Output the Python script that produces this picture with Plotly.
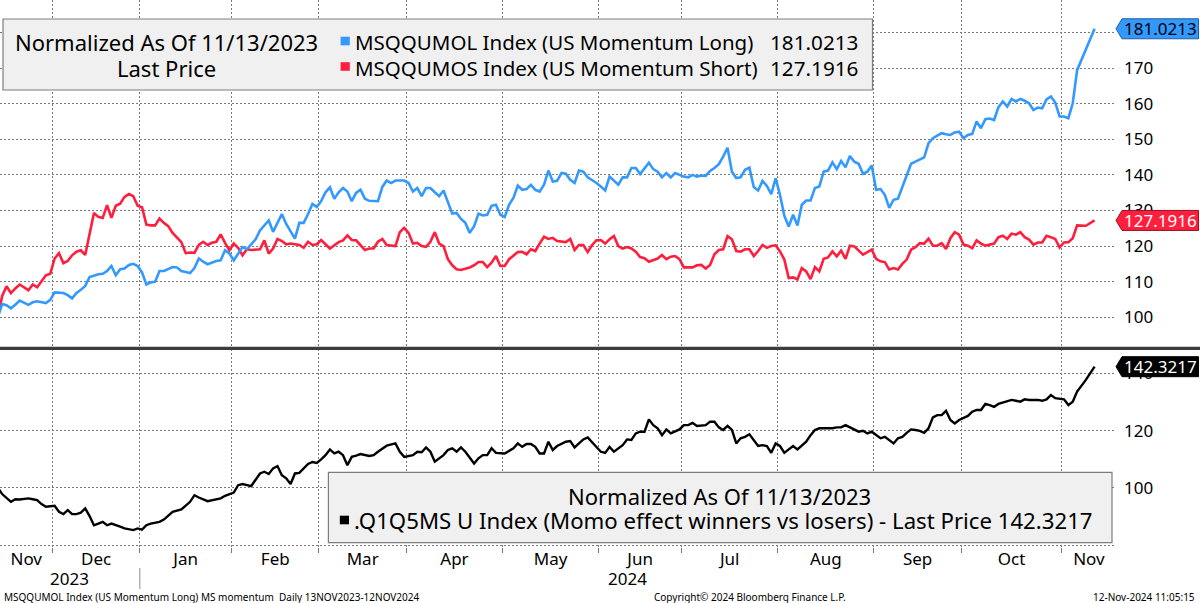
import plotly.graph_objects as go

# ---------------- data (trading-day number 0 = 13 Nov 2023 ... 251 = 12 Nov 2024) ----------------
LONG_NAME = "MSQQUMOL Index (US Momentum Long)"
SHORT_NAME = "MSQQUMOS Index (US Momentum Short)"
SPREAD_NAME = ".Q1Q5MS U Index (Momo effect winners vs losers)"
NORMALIZED_TEXT = "Normalized As Of 11/13/2023"

N = None
LONG_VAL = [
    100.0, 103.7, 103.4, 102.5, 103.5, 104.7, N, 103.5, 104.2, 104.5,
    N, 104.0, 104.9, 107.0, N, 106.8, 106.2, 105.3, 106.8, 107.7,
    108.8, 111.3, N, 112.1, 112.2, 113.0, 114.4, 111.8, 113.5, 113.7,
    114.7, 115.0, 114.4, 112.6, 109.2, 109.8, 110.0, 113.0, 113.0, N,
    114.1, 114.0, 113.0, 112.7, 112.4, 113.8, 116.5, 115.6, 114.9, N,
    115.8, 116.0, 118.8, 117.9, 116.0, 117.9, 119.7, 119.1, 120.5, 121.9,
    124.4, 125.9, 127.2, 124.0, 126.5, 129.0, 126.2, 124.0, 122.1, 126.5,
    126.5, 129.0, 131.8, 131.0, 132.6, 135.1, 136.5, 133.3, 135.1, 136.3,
    135.3, 132.6, 134.9, 135.8, 133.3, 132.7, N, 132.6, 136.6, 138.4,
    137.7, 138.4, 138.4, 138.4, 137.7, 135.3, 136.3, 134.0, 136.3, 136.3,
    135.1, 134.0, 135.6, 132.1, 129.1, 129.3, 127.6, 126.5, 123.7, 125.6,
    129.1, 128.6, 128.8, 131.3, 131.6, 128.8, 128.2, 131.6, 133.5, 137.0,
    135.8, 136.0, 137.2, 135.8, 135.3, 137.2, 141.2, 138.1, 138.3, 140.5,
    140.3, 138.6, 137.7, 141.2, 140.9, 139.3, 138.6, 137.7, 136.7, 135.6,
    139.5, 138.4, 137.2, 139.3, 139.3, 141.9, 141.9, 140.2, 141.9, 143.4,
    141.6, 140.9, 139.3, 140.5, 139.3, 140.5, 140.0, 139.5, 139.3, 140.0,
    139.5, 139.8, 139.7, 141.1, 141.9, 143.0, 145.1, 147.6, 140.9, 139.1,
    139.3, 141.4, 142.0, 136.6, 135.6, 138.3, 136.9, 134.6, 139.0, 134.4,
    128.5, 125.5, 128.8, 125.8, 131.6, 132.8, 132.8, 136.3, 136.7, 140.9,
    141.2, 143.5, 141.6, 143.9, 142.1, 145.3, 143.7, 143.1, 140.3, 140.9,
    142.6, 135.8, 136.0, 134.4, 130.7, 133.0, 133.3, 136.7, 139.5, 143.1,
    143.7, 144.2, 144.9, 148.9, 150.3, 151.0, 151.7, 151.4, 151.2, 151.9,
    152.1, 150.3, 151.2, 151.5, 155.0, 153.1, 155.6, 155.8, 155.4, 159.0,
    160.6, 159.2, 161.3, 160.6, 161.3, 160.8, 160.1, 158.2, 158.9, 158.7,
    161.2, 162.0, 160.3, 156.4, 156.4, 155.9, 160.1, 169.4, 172.2, 175.5,
    N, 181.0213,
]
SHORT_VAL = [
    100.0, 106.0, 108.7, 106.8, 108.1, 109.2, N, 107.6, 109.2, 108.4,
    110.2, 111.8, 112.2, 116.5, 118.0, 115.2, 115.8, 117.4, 118.4, 118.8,
    117.5, 123.7, 129.3, 128.2, 127.9, 131.5, 127.9, 131.3, 131.9, 133.8,
    134.6, 134.0, 131.3, 130.9, 126.0, 125.8, 125.8, 127.7, 126.5, 125.6,
    123.7, N, 121.1, 118.0, 118.2, 118.1, 120.3, 121.2, 120.3, 120.9,
    121.2, 123.3, 120.9, 118.8, 120.7, 119.5, 117.4, 119.1, 118.9, N,
    119.1, 121.6, 117.9, 119.3, 122.0, 121.4, 120.5, 120.7, N, 120.3,
    119.5, 121.2, 120.3, 120.5, 121.7, 120.5, 119.3, N, 121.1, 121.6,
    123.0, 121.7, 121.6, N, 118.9, 119.3, 119.3, 121.2, 122.0, 120.3,
    120.2, 120.0, 123.9, 125.1, 123.7, 120.7, 120.9, 120.0, 119.8, 121.2,
    123.9, 120.7, 120.0, 116.3, 114.6, 113.5, 113.3, N, 114.0, 114.6,
    115.5, 115.5, 114.1, 115.3, 117.2, 114.4, 114.4, 116.3, 117.2, 118.3,
    118.4, 117.7, 119.1, 118.6, 120.7, 122.6, 122.0, 122.3, 121.4, 121.2,
    121.1, 122.0, 118.9, 120.3, 120.3, 118.3, 120.3, 121.6, 121.7, 120.7,
    121.9, 122.8, 120.0, 119.3, 119.7, 119.3, 118.4, 116.9, 116.6, 115.6,
    116.0, 116.5, 117.5, 116.3, 117.0, 117.2, 116.3, 114.0, 114.0, 114.0,
    114.6, 114.7, 113.7, 114.7, 117.7, 118.9, 119.1, 122.8, 121.9, 118.6,
    118.4, 119.1, 119.1, 117.2, 118.6, 120.3, 119.5, 120.0, 120.2, 118.5,
    116.2, 111.0, 111.2, 110.6, 113.8, 112.9, 110.7, 114.1, 112.9, 116.4,
    116.8, 118.5, 117.1, 118.7, 116.4, 120.1, 119.9, 118.7, 117.6, 118.3,
    119.0, 116.4, 115.7, 115.5, 113.4, 113.8, 113.4, 115.0, 116.2, 119.0,
    119.7, 120.8, 120.7, 122.1, 120.1, 120.1, 120.8, 119.2, 122.2, 123.9,
    123.2, 120.4, 120.1, 119.4, 121.6, 120.7, 120.1, 120.4, 120.7, 122.5,
    122.9, 122.0, 123.5, 123.2, 123.9, 122.5, 121.8, 120.4, 121.0, 121.0,
    122.9, 122.5, 122.0, 119.6, 121.0, 121.1, 122.2, 125.8, 125.8, 125.7,
    N, 127.1916,
]
SPREAD_VAL = [
    100.0, 97.8, N, 95.1, 96.0, 95.9, N, 96.3, 96.0, 95.7,
    94.3, 93.4, N, 93.7, 91.6, 90.8, 92.2, 90.8, 90.8, 91.3,
    92.8, 90.1, 86.9, 87.5, 88.1, 86.9, 87.5, N, 86.4, 85.8,
    N, 85.2, 85.8, 85.4, 86.9, 87.5, N, 88.1, 88.9, 90.4,
    91.6, N, 92.4, 93.9, 95.1, 97.4, 96.6, N, 95.3, 95.7,
    95.9, 96.3, 97.2, 97.8, 98.3, 100.9, 101.3, N, 100.6, 102.7,
    105.0, 105.6, 104.8, 106.8, 107.6, 104.4, 103.3, 101.3, 105.0, 105.2,
    N, 108.3, 109.0, 108.7, 109.9, 111.4, 113.4, 112.0, 112.6, 111.4,
    107.9, 110.8, 111.2, 111.8, N, 111.1, 111.4, 112.6, 113.8, 114.7,
    N, 115.5, 112.6, 110.8, N, 111.4, 112.6, 112.4, 114.1, 112.6,
    109.1, N, 111.4, 113.2, 113.8, 112.6, 114.1, 112.6, N, 108.5,
    110.3, 111.4, 111.4, 113.8, 112.2, 112.0, 112.0, N, 113.8, 115.5,
    114.3, 115.3, 115.3, 114.3, 112.0, 112.0, 116.1, 113.2, 114.6, N,
    116.1, 116.3, 114.1, 115.5, 116.9, 117.6, N, 114.3, 112.6, 112.2,
    114.3, 112.6, N, 114.9, 116.9, 116.7, 119.0, 119.6, 119.6, 123.9,
    121.9, 120.8, 118.4, 120.4, 119.0, N, 120.4, 121.9, 121.9, 122.7,
    121.6, N, 121.9, 123.1, 123.1, 121.1, 120.2, 121.6, 120.2, 115.5,
    117.3, 117.8, 118.7, 116.7, 114.6, 114.9, 114.6, 112.2, 115.5, 114.6,
    112.2, 113.4, 114.6, 113.4, N, 116.1, 118.4, 120.2, 120.8, N,
    120.8, 120.8, 121.1, 121.1, 121.9, N, 120.4, 119.6, 119.9, 119.0,
    119.6, 118.4, 117.3, 117.8, 116.7, 115.5, 117.3, 117.8, 119.2, 120.4,
    120.2, 119.9, 119.2, 120.8, 124.6, 125.4, 125.4, 126.9, 123.7, 122.5,
    123.7, N, 125.1, 126.6, 127.2, 127.2, 129.3, 128.9, 128.3, 129.3,
    N, 130.4, 130.7, 130.4, 130.1, 130.9, 130.7, N, 130.7, 130.4,
    130.9, 132.4, 131.3, N, 130.9, 128.9, 130.1, 133.6, N, 137.7,
    N, 142.3217,
]

# first trading day (day number) of Dec 2023 ... Nov 2024
MONTH_START_DAY = [13, 33, 54, 74, 94, 116, 138, 157, 179, 201, 221, 244]
MONTH_LABELS = ["Nov", "Dec", "Jan", "Feb", "Mar", "Apr", "May", "Jun",
                "Jul", "Aug", "Sep", "Oct", "Nov"]
YEAR_LABELS = ["2023", "2024"]
TOP_TICKS = [100, 110, 120, 130, 140, 150, 160, 170, 180]
TOP_TICK_TEXT = ["100", "110", "120", "130", "140", "150", "160", "170", ""]
BOTTOM_TICKS = [80, 100, 120, 140]
BOTTOM_TICK_TEXT = ["", "100", "120", "140"]
FOOTER_LEFT = "MSQQUMOL Index (US Momentum Long) MS momentum  Daily 13NOV2023-12NOV2024"
FOOTER_MID = "Copyright\u00a9 2024 Bloomberg Finance L.P."
FOOTER_RIGHT = "12-Nov-2024 11:05:15"

# ---------------- styling / layout ----------------
W, H = 1200, 603
FONT = "Noto Sans"
BLUE = "#3399ff"
RED = "#ff1e3c"
BLACK = "#000000"
GRID = "#7a7a7a"
DASH = "2px,2px"


def px(x):
    return x / W


def py(y):
    return 1 - y / H


X_DOMAIN = [0, px(1116)]
TOP_DOMAIN = [py(346), 1]
BOT_DOMAIN = [py(547), py(349)]
X_RANGE = [0.5, 255.9]
TOP_RANGE = [91.93, 189.1]
BOT_RANGE = [79.3, 148.5]

days = list(range(len(LONG_VAL)))
grid_pos = [d - 0.5 for d in MONTH_START_DAY]
bounds = [X_RANGE[0]] + grid_pos + [X_RANGE[1]]
label_pos = [(a + b) / 2 for a, b in zip(bounds[:-1], bounds[1:])]
year_break = grid_pos[MONTH_LABELS.index("Jan") - 1]
year_pos = [(X_RANGE[0] + year_break) / 2, (year_break + X_RANGE[1]) / 2]

fig = go.Figure()
fig.add_trace(go.Scatter(x=days, y=SHORT_VAL, mode="lines", connectgaps=True,
                         line=dict(color=RED, width=2.6), xaxis="x", yaxis="y",
                         hoverinfo="skip", showlegend=False))
fig.add_trace(go.Scatter(x=days, y=LONG_VAL, mode="lines", connectgaps=True,
                         line=dict(color=BLUE, width=2.6), xaxis="x", yaxis="y",
                         hoverinfo="skip", showlegend=False))
fig.add_trace(go.Scatter(x=days, y=SPREAD_VAL, mode="lines", connectgaps=True,
                         line=dict(color=BLACK, width=2.4), xaxis="x2", yaxis="y2",
                         hoverinfo="skip", showlegend=False))

minor_grid = dict(tickvals=grid_pos, showgrid=True, gridcolor=GRID, griddash=DASH,
                  gridwidth=1)
tick_font = dict(family=FONT, size=17, color="#000000")

fig.update_layout(
    width=W, height=H,
    margin=dict(l=0, r=0, t=0, b=0),
    paper_bgcolor="white", plot_bgcolor="white",
    showlegend=False,
    xaxis=dict(domain=X_DOMAIN, anchor="y", range=X_RANGE, showticklabels=False,
               tickvals=[], showgrid=False, zeroline=False, showline=False,
               minor=dict(**minor_grid, ticks="")),
    xaxis2=dict(domain=X_DOMAIN, anchor="y2", range=X_RANGE, tickvals=label_pos,
                ticktext=MONTH_LABELS, ticks="", showgrid=False, zeroline=False,
                showline=False, tickfont=tick_font, ticklabelstandoff=0,
                minor=dict(**minor_grid, ticks="outside", ticklen=5, tickcolor=GRID)),
    yaxis=dict(domain=TOP_DOMAIN, anchor="x", side="right", range=TOP_RANGE,
               tickvals=TOP_TICKS, ticktext=TOP_TICK_TEXT, showgrid=True,
               gridcolor=GRID, griddash=DASH, zeroline=False, showline=False,
               ticks="", tickfont=tick_font, ticklabelstandoff=7),
    yaxis2=dict(domain=BOT_DOMAIN, anchor="x2", side="right", range=BOT_RANGE,
                tickvals=BOTTOM_TICKS, ticktext=BOTTOM_TICK_TEXT, showgrid=True,
                gridcolor=GRID, griddash=DASH, zeroline=False, showline=False,
                ticks="", tickfont=tick_font, ticklabelstandoff=7),
)

shapes = []
annotations = []

# separator between panels
shapes.append(dict(type="line", xref="paper", yref="paper", x0=0, x1=1,
                   y0=py(348.3), y1=py(348.3), line=dict(color="#3c3c3c", width=3.3),
                   layer="above"))

# legend boxes
box_style = dict(type="rect", xref="paper", yref="paper", fillcolor="#f0f0f0",
                 line=dict(color="#7d7d7d", width=1.2), layer="above")
shapes.append(dict(**box_style, x0=px(3), x1=px(872.5), y0=py(90), y1=py(19)))
shapes.append(dict(**box_style, x0=px(328.4), x1=px(1112), y0=py(542.7), y1=py(472.3)))


def square(cx, cy, color):
    return dict(type="rect", xref="paper", yref="paper", x0=px(cx - 4.6), x1=px(cx + 4.6),
                y0=py(cy + 4.3), y1=py(cy - 4.3), fillcolor=color, line=dict(width=0),
                layer="above")


shapes.append(square(345.2, 41, BLUE))
shapes.append(square(345.2, 66.5, RED))
shapes.append(square(344.4, 520, BLACK))


def ffont(size):
    return dict(family=FONT, size=size, color="#000000")


last_long = f"{LONG_VAL[-1]:.4f}"
last_short = f"{SHORT_VAL[-1]:.4f}"
last_spread = f"{SPREAD_VAL[-1]:.4f}"

annotations += [
    dict(x=px(166.5), y=py(42.5), text=NORMALIZED_TEXT, xanchor="center", font=ffont(22)),
    dict(x=px(166.5), y=py(68), text="Last Price", xanchor="center", font=ffont(22)),
    dict(x=px(353), y=py(42), text=LONG_NAME, xanchor="left", font=ffont(20.5)),
    dict(x=px(860), y=py(42), text=last_long, xanchor="right", font=ffont(20.7)),
    dict(x=px(353), y=py(67.5), text=SHORT_NAME, xanchor="left", font=ffont(20.5)),
    dict(x=px(860), y=py(67.5), text=last_short, xanchor="right", font=ffont(20.7)),
    dict(x=px(719), y=py(495.5), text=NORMALIZED_TEXT, xanchor="center", font=ffont(22)),
    dict(x=px(351.5), y=py(520.5),
         text=f"{SPREAD_NAME} - Last Price {last_spread}", xanchor="left",
         font=ffont(22.2)),
]
for a in annotations:
    a.update(xref="paper", yref="paper", yanchor="middle", showarrow=False)

# last-value tags on the right axis
tag_path = (f"M {px(1116)},0 L {px(1122)},10 L {px(1198.5)},10 "
            f"L {px(1198.5)},-10 L {px(1122)},-10 Z")
for val, yref, fill, edge, txt_color in [
        (LONG_VAL[-1], "y", BLUE, "#1f5f9f", "#000000"),
        (SHORT_VAL[-1], "y", RED, "#9a1024", "#ffffff"),
        (SPREAD_VAL[-1], "y2", BLACK, "#000000", "#ffffff")]:
    shapes.append(dict(type="path", xref="paper", yref=yref, ysizemode="pixel",
                       yanchor=val, path=tag_path, fillcolor=fill,
                       line=dict(color=edge, width=1), layer="above"))
    annotations.append(dict(x=px(1160), y=val, xref="paper", yref=yref,
                            text=f"{val:.4f}", showarrow=False, xanchor="center",
                            yanchor="middle",
                            font=dict(family=FONT, size=17, color=txt_color)))

# year labels + separator
for pos, txt in zip(year_pos, YEAR_LABELS):
    annotations.append(dict(x=pos, y=py(578), xref="x2", yref="paper", text=txt,
                            showarrow=False, xanchor="center", yanchor="middle",
                            font=tick_font))
shapes.append(dict(type="line", xref="x2", yref="paper", x0=year_break, x1=year_break,
                   y0=py(568), y1=py(589), line=dict(color="#8c8c8c", width=1)))

# footer
foot_font = dict(family=FONT, size=10, color="#000000")
annotations += [
    dict(x=px(2), y=py(597), text=FOOTER_LEFT, xanchor="left"),
    dict(x=px(750), y=py(597), text=FOOTER_MID, xanchor="center"),
    dict(x=px(1197), y=py(597), text=FOOTER_RIGHT, xanchor="right"),
]
for a in annotations[-3:]:
    a.update(xref="paper", yref="paper", yanchor="middle", showarrow=False, font=foot_font)

fig.update_layout(shapes=shapes, annotations=annotations)
fig.write_html(
    "out.html",
    config={"displayModeBar": False},
    post_script="document.body.style.margin='0px';document.body.style.overflow='hidden';",
)
